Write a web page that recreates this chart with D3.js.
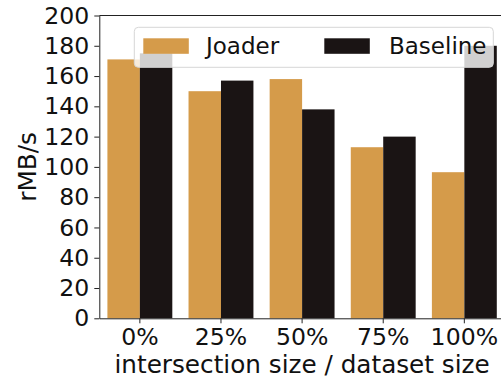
<!DOCTYPE html>
<html>
<head>
<meta charset="utf-8">
<script src="https://cdn.jsdelivr.net/npm/d3@7"></script>
<style>
  html, body { margin: 0; padding: 0; background: #fff; }
  svg { display: block; font-family: "DejaVu Sans", sans-serif; }
</style>
</head>
<body>
<svg id="chart" width="501" height="381"></svg>
<script>
// Throughput per intersection ratio
const categories = ["0%", "25%", "50%", "75%", "100%"];
const seriesNames = ["Joader", "Baseline"];
const joaderValues = [171, 150, 158, 113, 96.5];
const baselineValues = [175, 157, 138, 120, 180];
const yTicks = [0, 20, 40, 60, 80, 100, 120, 140, 160, 180, 200];
const colors = { Joader: "#d59b4a", Baseline: "#1a1414" };

const svg = d3.select("#chart");
const plotLeft = 99.3, plotRight = 504.9, plotTop = 15.5, plotBottom = 318.3;
const tickFont = 23.6, labelFont = 24.7, legendFont = 23;

const x = d3.scaleBand().domain(categories).range([plotLeft, plotRight])
  .paddingInner(0.2).paddingOuter(0.1);
const xSub = d3.scaleBand().domain(seriesNames).range([0, x.bandwidth()]);
const y = d3.scaleLinear().domain([0, 200]).range([plotBottom, plotTop]);

const rows = categories.map((c, i) => ({
  cat: c,
  vals: [
    { name: "Joader", v: joaderValues[i] },
    { name: "Baseline", v: baselineValues[i] }
  ]
}));

svg.append("g").selectAll("g").data(rows).join("g")
  .attr("transform", d => `translate(${x(d.cat)},0)`)
  .selectAll("rect").data(d => d.vals).join("rect")
  .attr("x", d => xSub(d.name))
  .attr("width", xSub.bandwidth())
  .attr("y", d => y(d.v))
  .attr("height", d => y(0) - y(d.v))
  .attr("fill", d => colors[d.name]);

// axes
const yAxis = svg.append("g").attr("transform", `translate(${plotLeft},0)`)
  .call(d3.axisLeft(y).tickValues(yTicks).tickSize(5).tickPadding(5).tickSizeOuter(0));
const xAxis = svg.append("g").attr("transform", `translate(0,${plotBottom})`)
  .call(d3.axisBottom(x).tickSize(5).tickPadding(5).tickSizeOuter(0));
[yAxis, xAxis].forEach(g => {
  g.selectAll("text").attr("font-size", tickFont).attr("fill", "#111")
    .attr("font-family", "DejaVu Sans");
  g.selectAll(".tick line").attr("stroke", "#222");
  g.select(".domain").attr("stroke", "#222");
});

// top spine
svg.append("line").attr("x1", plotLeft).attr("x2", plotRight)
  .attr("y1", plotTop).attr("y2", plotTop).attr("stroke", "#222");

// axis titles
svg.append("text")
  .attr("transform", `translate(35.5,${(plotTop + plotBottom) / 2}) rotate(-90)`)
  .attr("text-anchor", "middle").attr("font-size", labelFont).attr("fill", "#111")
  .text("rMB/s");
svg.append("text")
  .attr("x", (plotLeft + plotRight) / 2).attr("y", 372.7)
  .attr("text-anchor", "middle").attr("font-size", labelFont).attr("fill", "#111")
  .text("intersection size / dataset size");

// legend
const legend = svg.append("g");
legend.append("rect")
  .attr("x", 134.3).attr("y", 27.3).attr("width", 359).attr("height", 40)
  .attr("rx", 4).attr("fill", "#fff").attr("fill-opacity", 0.8)
  .attr("stroke", "#d6d6d6");
const legendItems = [
  { name: "Joader", px: 143.3, tx: 206 },
  { name: "Baseline", px: 324.3, tx: 389 }
];
legendItems.forEach(it => {
  legend.append("rect").attr("x", it.px).attr("y", 38.3)
    .attr("width", 45.5).attr("height", 15.5).attr("fill", colors[it.name]);
  legend.append("text").attr("x", it.tx).attr("y", 54.3)
    .attr("font-size", legendFont).attr("fill", "#111").text(it.name);
});
</script>
</body>
</html>
